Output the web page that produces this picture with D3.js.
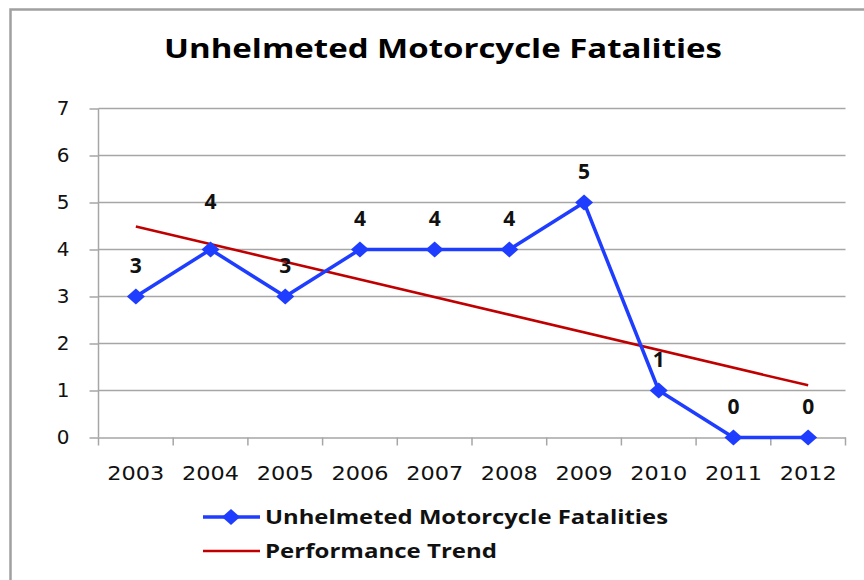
<!DOCTYPE html>
<html>
<head>
<meta charset="utf-8">
<script src="https://cdn.jsdelivr.net/npm/d3@7"></script>
<style>
  body { margin: 0; background: #fff; }
  svg { display: block; }
</style>
</head>
<body>
<svg id="chart"></svg>
<script>
'use strict';

const WIDTH = 864;
const HEIGHT = 580;

const years = ["2003", "2004", "2005", "2006", "2007", "2008", "2009", "2010", "2011", "2012"];
const fatalities = [3, 4, 3, 4, 4, 4, 5, 1, 0, 0];
// trend line end points
const trendYears = ["2003", "2012"];
const trendValues = [4.49, 1.11];
const yTicks = [0, 1, 2, 3, 4, 5, 6, 7];

const TITLE = "Unhelmeted Motorcycle Fatalities";
const SERIES_NAME = "Unhelmeted Motorcycle Fatalities";
const TREND_NAME = "Performance Trend";

const BLUE = "#1f3dff";
const RED = "#c00000";
const GRID = "#a6a6a6";
const FONT = "'DejaVu Sans', Verdana, sans-serif";
const BOLD_FONT = "'Open Sans', 'DejaVu Sans', sans-serif";

const svg = d3.select("svg#chart")
              .attr("width", WIDTH)
              .attr("height", HEIGHT);

// outer frame (right and bottom edges fall outside the picture)
svg.append("rect")
   .attr("x", 10.5).attr("y", 9.5)
   .attr("width", WIDTH + 20).attr("height", HEIGHT + 20)
   .attr("fill", "none")
   .attr("stroke", "#a0a0a0")
   .attr("stroke-width", 2.5);

svg.append("text")
   .attr("x", 443).attr("y", 58)
   .attr("text-anchor", "middle")
   .attr("font-family", BOLD_FONT)
   .attr("font-weight", "bold")
   .attr("font-size", 27)
   .attr("textLength", 558)
   .attr("lengthAdjust", "spacingAndGlyphs")
   .text(TITLE);

const x = d3.scaleBand()
            .domain(years)
            .range([98.5, 845.5]);
const y = d3.scaleLinear()
            .domain([0, 7])
            .range([437.5, 108.5]);
const cx = d => x(d) + x.bandwidth() / 2;

// horizontal gridlines
svg.append("g")
   .selectAll("line")
   .data(yTicks.filter(d => d > 0))
   .enter()
   .append("line")
   .attr("x1", 98.5).attr("x2", 845.5)
   .attr("y1", d => y(d)).attr("y2", d => y(d))
   .attr("stroke", GRID)
   .attr("stroke-width", 1.3);

const yAxis = d3.axisLeft(y)
                .tickValues(yTicks)
                .tickSize(9)
                .tickPadding(20)
                .tickFormat(d => String(d));
const gy = svg.append("g")
              .attr("transform", "translate(98.5,0)")
              .call(yAxis);

const xAxis = d3.axisBottom(x)
                .tickSize(0)
                .tickPadding(28);
const gx = svg.append("g")
              .attr("transform", "translate(0,437.5)")
              .call(xAxis);

// x ticks sit on the band edges
gx.selectAll("line.edge")
  .data(years.concat(["end"]))
  .enter()
  .append("line")
  .attr("class", "edge")
  .attr("x1", (d, i) => i < years.length ? x(d) : x(years[years.length - 1]) + x.bandwidth())
  .attr("x2", (d, i) => i < years.length ? x(d) : x(years[years.length - 1]) + x.bandwidth())
  .attr("y1", 0).attr("y2", 8);

[gx, gy].forEach(g => {
    g.select(".domain").attr("stroke", GRID).attr("stroke-width", 1.5);
    g.selectAll("line").attr("stroke", GRID).attr("stroke-width", 1.5);
    g.selectAll("text")
     .attr("font-family", FONT)
     .attr("font-size", 20)
     .attr("fill", "#111");
});
gy.select(".domain").attr("d", "M0,108.5V437.5");
gx.selectAll(".tick text").attr("textLength", 57).attr("lengthAdjust", "spacingAndGlyphs");

// trend line
svg.append("path")
   .datum(trendYears.map((d, i) => ({ year: d, value: trendValues[i] })))
   .attr("fill", "none")
   .attr("stroke", RED)
   .attr("stroke-width", 2.5)
   .attr("d", d3.line().x(d => cx(d.year)).y(d => y(d.value)));

const series = years.map((d, i) => ({ year: d, value: fatalities[i] }));

svg.append("path")
   .datum(series)
   .attr("fill", "none")
   .attr("stroke", BLUE)
   .attr("stroke-width", 3.5)
   .attr("stroke-linejoin", "round")
   .attr("d", d3.line().x(d => cx(d.year)).y(d => y(d.value)));

const diamond = (px, py) => `M${px - 9},${py}L${px},${py - 8}L${px + 9},${py}L${px},${py + 8}Z`;

svg.append("g")
   .selectAll("path")
   .data(series)
   .enter()
   .append("path")
   .attr("d", d => diamond(cx(d.year), y(d.value)))
   .attr("fill", BLUE);

// data labels; the 2004 one is pushed up clear of the trend line
svg.append("g")
   .selectAll("text")
   .data(series)
   .enter()
   .append("text")
   .attr("x", d => cx(d.year))
   .attr("y", d => y(d.value) - (d.year === "2004" ? 41 : 24))
   .attr("text-anchor", "middle")
   .attr("font-family", BOLD_FONT)
   .attr("font-weight", "bold")
   .attr("font-size", 21)
   .attr("fill", "#111")
   .text(d => String(d.value));

// legend
const legend = svg.append("g");
legend.append("line")
      .attr("x1", 203).attr("x2", 260)
      .attr("y1", 517).attr("y2", 517)
      .attr("stroke", BLUE).attr("stroke-width", 3.5);
legend.append("path")
      .attr("d", diamond(231, 517))
      .attr("fill", BLUE);
legend.append("line")
      .attr("x1", 203).attr("x2", 260)
      .attr("y1", 551).attr("y2", 551)
      .attr("stroke", RED).attr("stroke-width", 2.5);
legend.selectAll("text")
      .data([[SERIES_NAME, 524, 403], [TREND_NAME, 558, 232]])
      .enter()
      .append("text")
      .attr("x", 265)
      .attr("y", d => d[1])
      .attr("font-family", BOLD_FONT)
      .attr("font-weight", "bold")
      .attr("font-size", 20)
      .attr("fill", "#111")
      .attr("textLength", d => d[2])
      .attr("lengthAdjust", "spacingAndGlyphs")
      .text(d => d[0]);
</script>
</body>
</html>
